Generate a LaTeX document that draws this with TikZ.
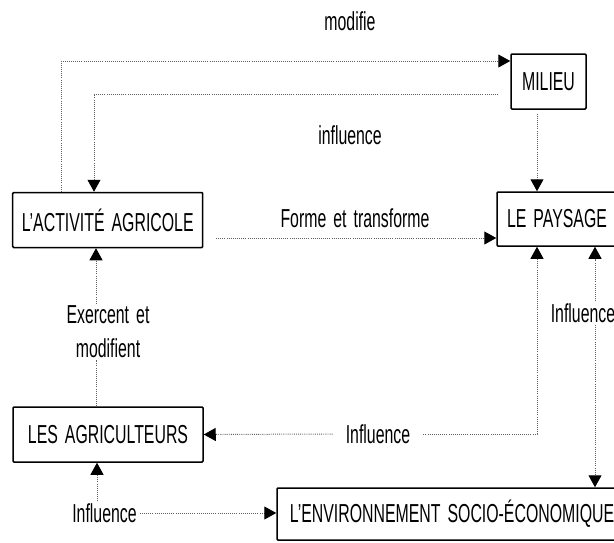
\documentclass[tikz,border=0pt]{standalone}
\usepackage{fontspec}
\setmainfont[FakeStretch=0.61, WordSpace=1.6]{Liberation Sans}
\usetikzlibrary{arrows.meta}
\tikzset{
  box/.style={draw=black, line width=1.5pt, rounded corners=1pt, inner sep=0pt,
              font=\fontsize{26}{30}\selectfont, text=black},
  lbl/.style={inner sep=2pt, font=\fontsize{26}{30}\selectfont, text=black},
  conn/.style={draw=black!62, line width=1pt, dash pattern=on 0.9pt off 1.2pt},
  arr/.style={conn, -{Triangle[length=12pt,width=13pt,color=black]}}
}
\begin{document}
\begin{tikzpicture}[x=1pt,y=-1pt]
\useasboundingbox (0,0) rectangle (614,542);
\clip (0,0) rectangle (614,542);
\fill[white] (0,0) rectangle (614,542);

% boxes
\node[box, minimum width=75pt,  minimum height=55pt] (mil) at (548.5,81.5) {MILIEU};
\node[box, minimum width=190pt, minimum height=55pt] (act) at (107.7,220) {L’ACTIVITÉ AGRICOLE};
\node[box, minimum width=120pt, minimum height=54pt] (pay) at (557,219) {LE PAYSAGE};
\node[box, minimum width=190pt, minimum height=55pt] (agr) at (108,434.5) {LES AGRICULTEURS};
\node[box, minimum width=350pt, minimum height=52pt] (env) at (452,514) {L’ENVIRONNEMENT SOCIO-ÉCONOMIQUE};

% labels
\node[lbl] (t1) at (350,21)  {modifie};
\node[lbl] (t2) at (350,135) {influence};
\node[lbl] (t3) at (355,218) {Forme et transforme};
\node[lbl] (t4) at (108,315) {Exercent et};
\node[lbl] (t5) at (108,348) {modifient};
\node[lbl, inner xsep=13pt] (t6) at (378,434) {Influence};
\node[lbl] (t7) at (583,313) {Influence};
\node[lbl, inner xsep=3pt] (t8) at (104.5,513) {Influence};

% helper coordinates
\coordinate (xA) at (61,61);
\coordinate (xB) at (94,94);
\coordinate (mB) at (498,94);
\coordinate (xC) at (537,0);
\coordinate (fA) at (216,238);
\coordinate (xE) at (96,0);
\coordinate (xD) at (595,0);
\coordinate (xF) at (97,0);

% modifie
\draw[arr] (act.north -| xA) -- (xA) -- (xA -| mil.west);
% influence
\draw[arr] (mB) -- (xB) -- (xB |- act.north);
% milieu -> paysage
\draw[arr] ([yshift=-4pt]xC |- mil.south) -- (xC |- pay.north);
% forme et transforme
\draw[arr] (fA) -- (fA -| pay.west);
% exercent et modifient
\draw[arr] (xE |- t4.north) -- (xE |- act.south);
\draw[conn] (xE |- agr.north) -- (xE |- t5.south);
% influence (paysage <-> agriculteurs)
\draw[arr] (t6.west) -- (agr.east);
\draw[arr] (t6.east) -| (xC |- pay.south);
% influence (paysage <-> environnement)
\draw[arr] (xD |- t7.north) -- (xD |- pay.south);
\draw[arr] (xD |- t7.south) -- (xD |- env.north);
% influence bottom left
\draw[arr] (t8.east) -- (t8.east -| env.west);
\draw[arr] (xF |- t8.north) -- (xF |- agr.south);
\end{tikzpicture}
\end{document}
